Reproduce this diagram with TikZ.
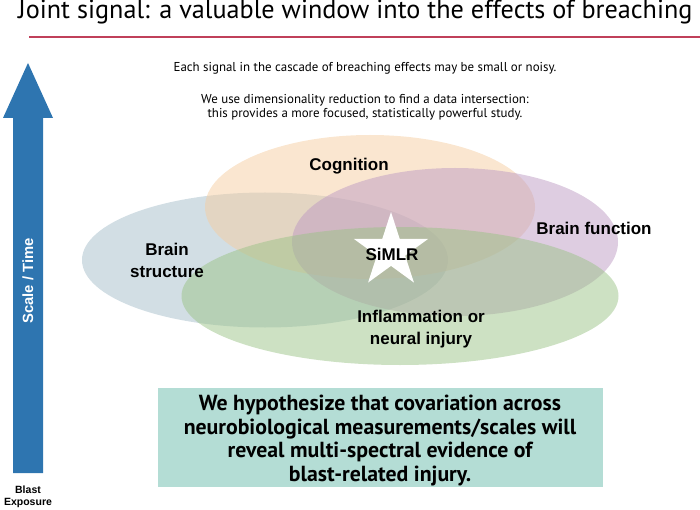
\documentclass[tikz,border=0pt]{standalone}
\usepackage{fontspec}
\setmainfont{PT Sans}
\newfontfamily\helv{Liberation Sans}
\usetikzlibrary{positioning,shapes.geometric}
\definecolor{titlered}{RGB}{192,64,90}
\definecolor{arrowblue}{RGB}{46,117,176}
\definecolor{hypteal}{RGB}{180,221,213}
\definecolor{cogorange}{RGB}{245,205,161}
\definecolor{strblue}{RGB}{165,189,201}
\definecolor{funpurple}{RGB}{189,155,195}
\definecolor{infgreen}{RGB}{155,195,135}
\tikzset{blob/.style={ellipse,inner sep=0pt,fill opacity=0.5},
         lbl/.style={font=\helv\bfseries\fontsize{17}{22}\selectfont,align=center},
         note/.style={font=\fontsize{12.9}{14}\selectfont,align=center}
}

\begin{document}
\begin{tikzpicture}[x=1pt,y=1pt,yscale=-1]
\useasboundingbox (0,0) rectangle (700,510);

% title and rule
\node[anchor=base west,inner sep=0pt,font=\fontsize{26.2}{30}\selectfont] (title) at (18,19) {Joint signal: a valuable window into the effects of breaching};
\coordinate (rulel) at (29,37);
\coordinate (ruler) at (700,37);
\draw[titlered,line width=1.3pt] (rulel) -- (ruler);

% scale arrow
\fill[arrowblue] (13,473) -- (43,473) -- (43,118) -- (53,118) -- (28,63) -- (3,118) -- (13,118) -- cycle;
\node[rotate=90,text=white,font=\helv\bfseries\fontsize{14.8}{17}\selectfont] (scaletime) at (28,281) {Scale / Time};
\node[font=\helv\bfseries\fontsize{10.5}{12}\selectfont,align=center] (blast) at (28,497) {Blast\\Exposure};

% notes
\node[note] (cascade) at (365,68) {Each signal in the cascade of breaching effects may be small or noisy.};
\node[note] (reduction) at (365,107) {We use dimensionality reduction to find a data intersection:\\this provides a more focused, statistically powerful study.};

% overlapping measurements
\node[blob,fill=strblue,minimum width=366,minimum height=135] (structure) at (265,260) {};
\node[blob,fill=cogorange,minimum width=330,minimum height=144] (cognition) at (370,207) {};
\node[blob,fill=funpurple,minimum width=326,minimum height=148] (function) at (455,242) {};
\node[blob,fill=infgreen,minimum width=437,minimum height=138] (inflam) at (400,296) {};

\node[star,star points=5,star point ratio=2.62,minimum size=78,inner sep=0pt,fill=white] (star) at (391,251) {};
\node[lbl] (simlr) at (392,254) {SiMLR};

\node[lbl] (cogtxt) at (349,166) {Cognition};
\node[lbl] (funtxt) at (594,228) {Brain function};
\node[lbl] (strtxt) at (167,260) {Brain\\structure};
\node[lbl] (inftxt) at (421,329) {Inflammation or\\neural injury};

% hypothesis
\node[fill=hypteal,minimum width=445,minimum height=99,inner sep=0pt] (hypbox) at (380,437.5) {};
\node[align=center,font=\bfseries\fontsize{21.8}{23.7}\selectfont,below=0pt of hypbox.center,anchor=center,yshift=-3pt] (hyptxt) {We hypothesize that covariation across\\neurobiological measurements/scales will\\reveal multi-spectral evidence of\\blast-related injury.};

\end{tikzpicture}
\end{document}
